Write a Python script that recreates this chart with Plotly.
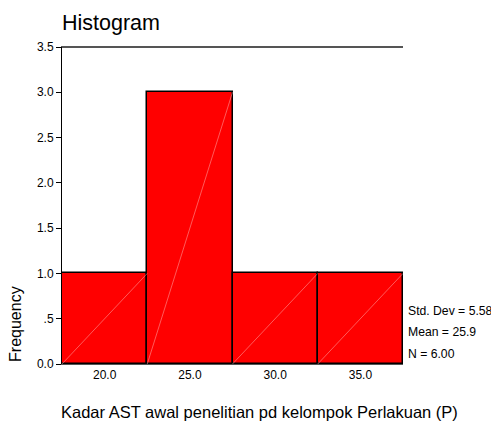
import plotly.graph_objects as go

# histogram bins (centers) and frequencies
bin_centers = [20.0, 25.0, 30.0, 35.0]
counts = [1, 3, 1, 1]
bin_width = 5.0
tick_vals_y = [0, 0.5, 1.0, 1.5, 2.0, 2.5, 3.0, 3.5]
tick_text_y = ["0.0", ".5", "1.0", "1.5", "2.0", "2.5", "3.0", "3.5"]
tick_vals_x = [20.0, 25.0, 30.0, 35.0]
tick_text_x = ["20.0", "25.0", "30.0", "35.0"]
stats = ["Std. Dev = 5.58", "Mean = 25.9", "N = 6.00"]

fig = go.Figure()
fig.add_trace(go.Bar(
    x=bin_centers, y=counts, width=bin_width,
    marker=dict(color="#ff0000", line=dict(color="black", width=1.5)),
    showlegend=False, hoverinfo="x+y",
))

# faint diagonal shading lines seen inside each bar
dx, dy = [], []
for c, n in zip(bin_centers, counts):
    dx += [c - bin_width / 2, c + bin_width / 2, None]
    dy += [0, n, None]
fig.add_trace(go.Scatter(x=dx, y=dy, mode="lines",
                         line=dict(color="rgba(255,190,190,0.8)", width=0.6),
                         showlegend=False, hoverinfo="skip"))

font = "Arial, Liberation Sans, sans-serif"
fig.update_layout(
    width=491, height=423,
    margin=dict(l=54, r=96, t=39, b=67),
    paper_bgcolor="white", plot_bgcolor="white",
    font=dict(family=font, size=12, color="black"),
    bargap=0,
    xaxis=dict(range=[17.5, 37.5], tickvals=tick_vals_x, ticktext=tick_text_x,
               showgrid=False, zeroline=False, showline=True, linecolor="#555555",
               linewidth=1, mirror=True, ticks="", ticklen=0),
    yaxis=dict(range=[0, 3.5], tickvals=tick_vals_y, ticktext=tick_text_y,
               showgrid=False, zeroline=False, showline=True, linecolor="black",
               linewidth=1, ticks="outside", ticklen=5, tickcolor="black"),
)
# frame top in dark gray, a bit heavier
fig.add_shape(type="line", xref="paper", yref="paper", x0=0, x1=1, y0=1, y1=1,
              line=dict(color="#555555", width=2))
fig.add_annotation(text="Histogram", xref="paper", yref="paper", x=-0.003, y=1.035,
                   xanchor="left", yanchor="bottom", showarrow=False,
                   font=dict(size=21.5), borderpad=0)
fig.add_annotation(text="Kadar AST awal penelitian pd kelompok Perlakuan (P)",
                   xref="paper", yref="paper", x=0.58, y=-0.151,
                   xanchor="center", yanchor="middle", showarrow=False,
                   font=dict(size=16.5))
fig.add_annotation(text="Frequency", xref="paper", yref="paper", x=-0.138, y=0,
                   xanchor="center", yanchor="bottom", textangle=-90,
                   showarrow=False, font=dict(size=16))
stat_y = [0.167, 0.101, 0.032]
for s, yy in zip(stats, stat_y):
    fig.add_annotation(text=s, xref="paper", yref="paper", x=1.008, y=yy,
                       xanchor="left", yanchor="middle", showarrow=False,
                       font=dict(size=12.2))

fig.write_html("out.html")
